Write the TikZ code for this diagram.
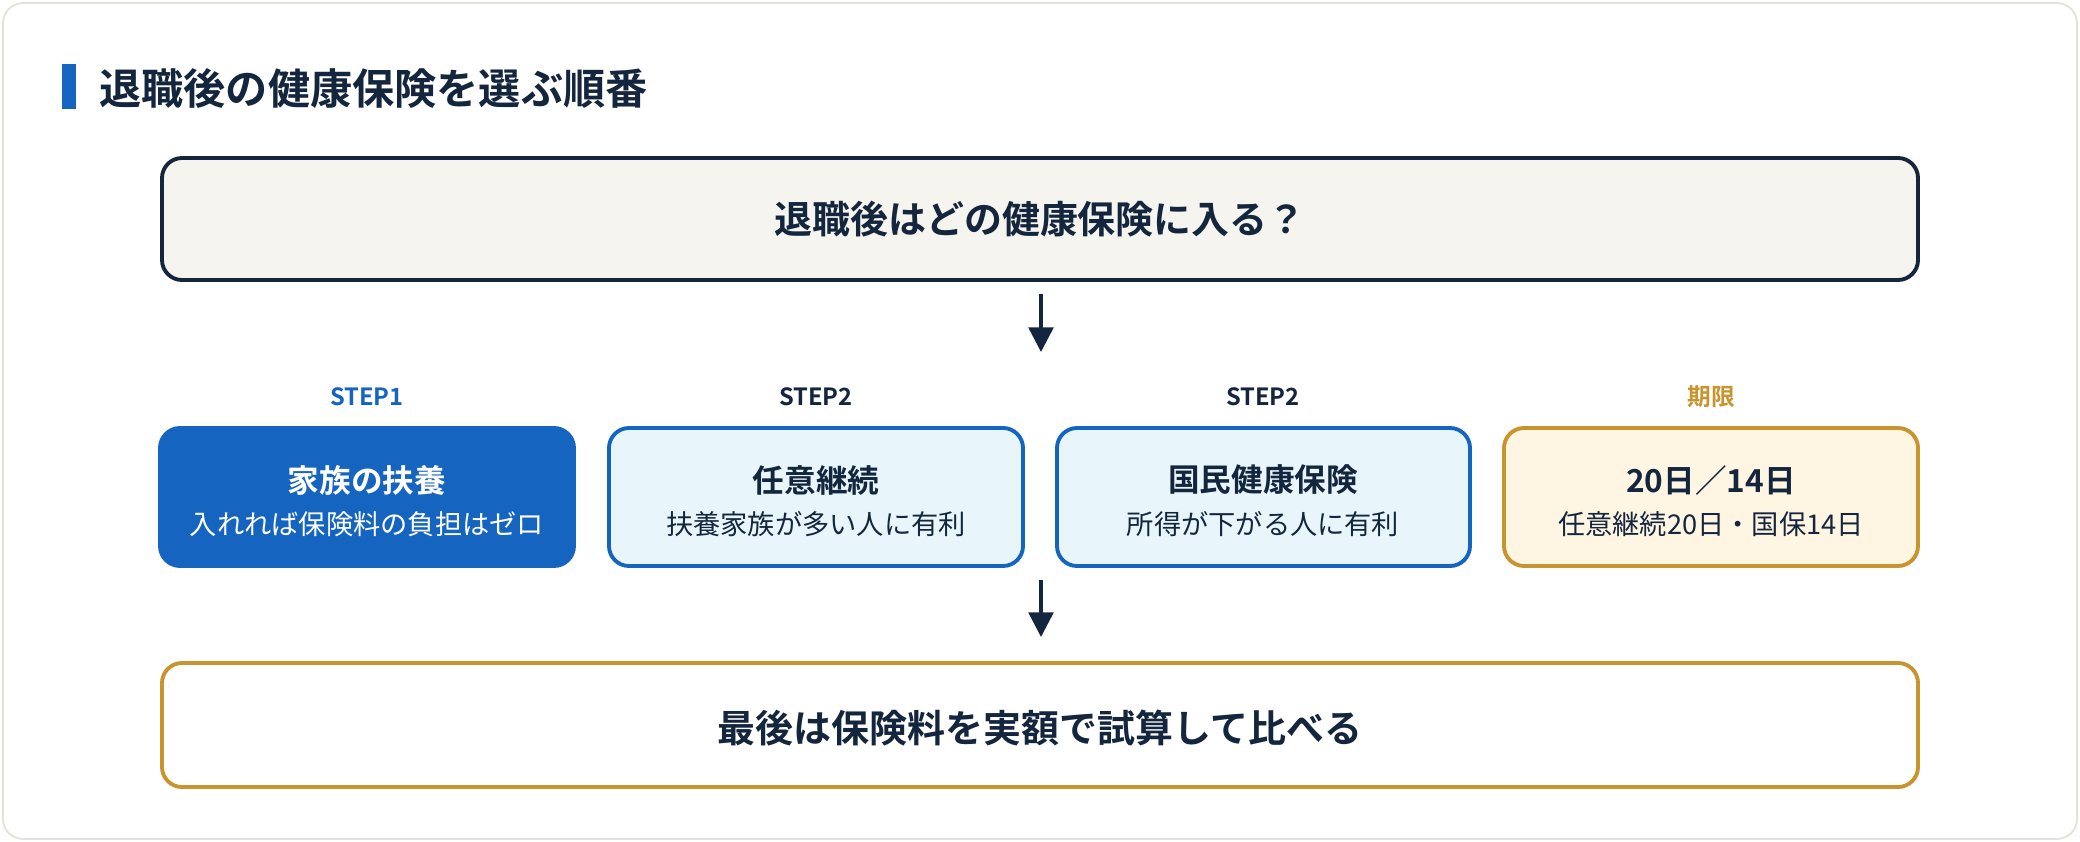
\documentclass[tikz,border=0pt]{standalone}
\usepackage{fontspec}
\setmainfont{Noto Sans CJK JP}[BoldFont={Noto Sans CJK JP Bold}]
\usetikzlibrary{arrows.meta}
\definecolor{navy}{HTML}{14263E}
\definecolor{blu}{HTML}{1565C0}
\definecolor{gold}{HTML}{C8942F}
\definecolor{lblue}{HTML}{E8F6FC}
\definecolor{cream}{HTML}{FFF5E3}
\definecolor{beige}{HTML}{F5F4EF}
\definecolor{edge}{HTML}{E4E2D6}
\begin{document}
\begin{tikzpicture}[x=0.02cm,y=-0.02cm,
  box/.style={rounded corners=0.4cm,line width=2.2pt},
  arr/.style={navy,line width=2pt,-{Triangle[length=14pt,width=14pt]}},
  steplbl/.style={font=\bfseries\fontsize{13.5}{15}\selectfont},
  ttl/.style={font=\bfseries\fontsize{18}{21}\selectfont},
  sub/.style={font=\fontsize{15.5}{18}\selectfont}]
\useasboundingbox (0,0) rectangle (2080,842);
\draw[edge,fill=white,line width=1pt,rounded corners=0.4cm] (3,3) rectangle (2077,839);
\fill[blu] (62,64) rectangle (76,109);
\node[anchor=west,navy,font=\bfseries\fontsize{24}{28}\selectfont,inner sep=0pt] (title) at (99,88) {退職後の健康保険を選ぶ順番};
\draw[box,navy,fill=beige] (162,158) rectangle (1918,280);
\node[navy,font=\bfseries\fontsize{21.6}{26}\selectfont] (q) at (1040,219) {退職後はどの健康保険に入る？};
\coordinate (a1s) at (1041,294); \coordinate (a1e) at (1041,352);
\draw[arr] (a1s) -- (a1e);
\node[steplbl,blu] (l1) at (367,397) {STEP1};
\node[steplbl,navy] (l2) at (816,397) {STEP2};
\node[steplbl,navy] (l3) at (1263,397) {STEP2};
\node[steplbl,gold] (l4) at (1711,397) {期限};
\draw[box,blu,fill=blu] (160,428) rectangle (574,566);
\node[ttl,white] (b1) at (367,480) {家族の扶養};
\node[sub,white] (s1) at (367,524) {入れれば保険料の負担はゼロ};
\draw[box,blu,fill=lblue] (609,428) rectangle (1023,566);
\node[ttl,navy] (b2) at (816,480) {任意継続};
\node[sub,navy] (s2) at (816,524) {扶養家族が多い人に有利};
\draw[box,blu,fill=lblue] (1057,428) rectangle (1470,566);
\node[ttl,navy] (b3) at (1263,480) {国民健康保険};
\node[sub,navy] (s3) at (1263,524) {所得が下がる人に有利};
\draw[box,gold,fill=cream] (1504,428) rectangle (1918,566);
\node[ttl,navy] (b4) at (1711,480) {20日／14日};
\node[sub,navy] (s4) at (1711,524) {任意継続20日・国保14日};
\coordinate (a2s) at (1041,580); \coordinate (a2e) at (1041,637);
\draw[arr] (a2s) -- (a2e);
\draw[box,gold,fill=white] (162,663) rectangle (1918,787);
\node[navy,font=\bfseries\fontsize{21.6}{26}\selectfont] (f) at (1040,728) {最後は保険料を実額で試算して比べる};
\end{tikzpicture}
\end{document}
